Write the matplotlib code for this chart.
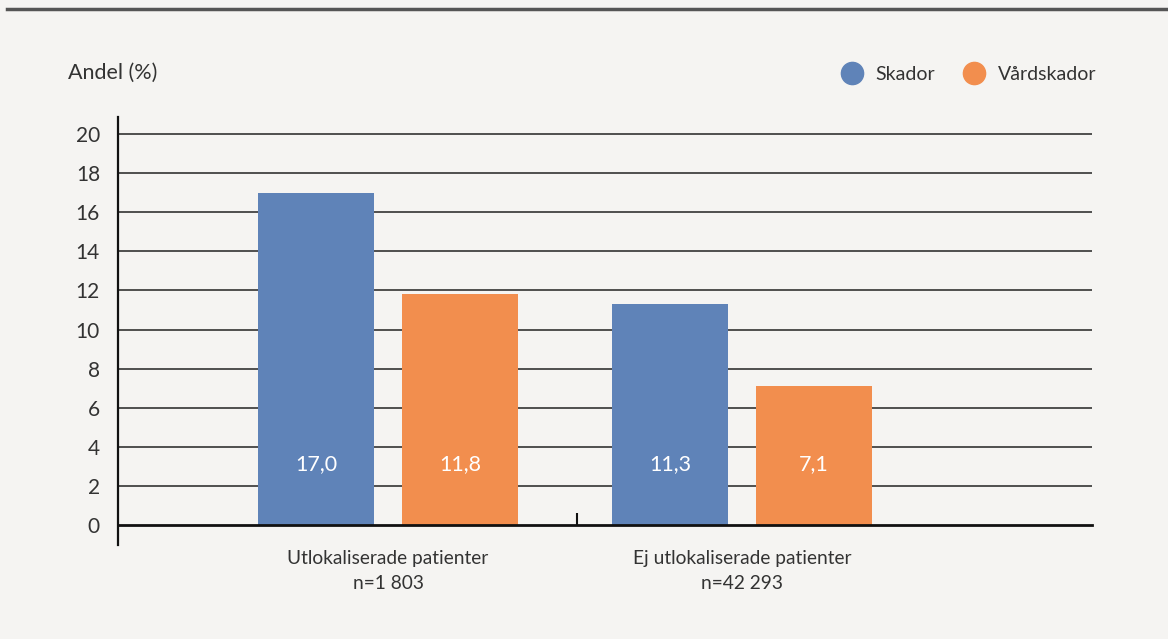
import matplotlib.pyplot as plt
from matplotlib.lines import Line2D

# data
groups = ["Utlokaliserade patienter\nn=1 803", "Ej utlokaliserade patienter\nn=42 293"]
series = ["Skador", "Vårdskador"]
skador = [17.0, 11.3]
vardskador = [11.8, 7.1]
yticks = [0, 2, 4, 6, 8, 10, 12, 14, 16, 18, 20]

blue = "#5F83B8"
orange = "#F28E4E"
bg = "#F5F4F2"
txt = "#333333"

plt.rcParams['font.family'] = ['Lato', 'DejaVu Sans']

fig = plt.figure(figsize=(11.68, 6.39), dpi=100, facecolor=bg)
ax = fig.add_axes([118 / 1168, 1 - 545 / 639, (1092 - 118) / 1168, (545 - 117) / 639])
ax.set_facecolor(bg)

x = range(len(groups))
w = 0.33
off = 0.2035
b1 = ax.bar([i - off for i in x], skador, w, color=blue, zorder=3)
b2 = ax.bar([i + off for i in x], vardskador, w, color=orange, zorder=3)

for bars, vals in ((b1, skador), (b2, vardskador)):
    for b, v in zip(bars, vals):
        ax.text(b.get_x() + b.get_width() / 2, 3.1, f"{v:.1f}".replace(".", ","),
                ha="center", va="center", color="white", fontsize=15.5, zorder=4)

ax.set_xlim(-0.763, 1.989)
ax.set_ylim(-1.02, 20.87)
for t in yticks[1:]:
    ax.axhline(t, color="#222222", lw=1.1, zorder=1)

ax.spines['top'].set_visible(False)
ax.spines['right'].set_visible(False)
ax.spines['bottom'].set_position(('data', 0))
ax.spines['bottom'].set_linewidth(2)
ax.spines['bottom'].set_color("#111111")
ax.spines['left'].set_linewidth(1.6)
ax.spines['left'].set_color("#111111")
ax.spines['bottom'].set_zorder(5)

ax.set_yticks(yticks)
ax.set_yticklabels([str(t) for t in yticks])
ax.tick_params(axis='y', length=0, pad=13, labelsize=15, labelcolor=txt)
ax.set_xticks([0.535])
ax.set_xticklabels([""])
ax.tick_params(axis='x', direction='in', length=9, width=1.5, color="#111111")

for i, g in enumerate(groups):
    ax.text(i, -1.3, g, ha="center", va="top", fontsize=13.8, color=txt, linespacing=1.55)

fig.text(68 / 1168, 1 - 73 / 639, "Andel (%)", ha="left", va="center", fontsize=15.5, color=txt)

handles = [Line2D([], [], marker='o', ls='none', markersize=16, color=c) for c in (blue, orange)]
fig.legend(handles, series, loc='center right', bbox_to_anchor=(1096 / 1168, 1 - 74 / 639),
           frameon=False, ncol=2, fontsize=14, handletextpad=0.2, columnspacing=1.0,
           borderpad=0, borderaxespad=0, labelcolor=txt)

fig.add_artist(Line2D([7 / 1168, 1], [1 - 9 / 639, 1 - 9 / 639], color="#555555", lw=2.5))

fig.savefig("out.png", dpi=100, facecolor=bg)
